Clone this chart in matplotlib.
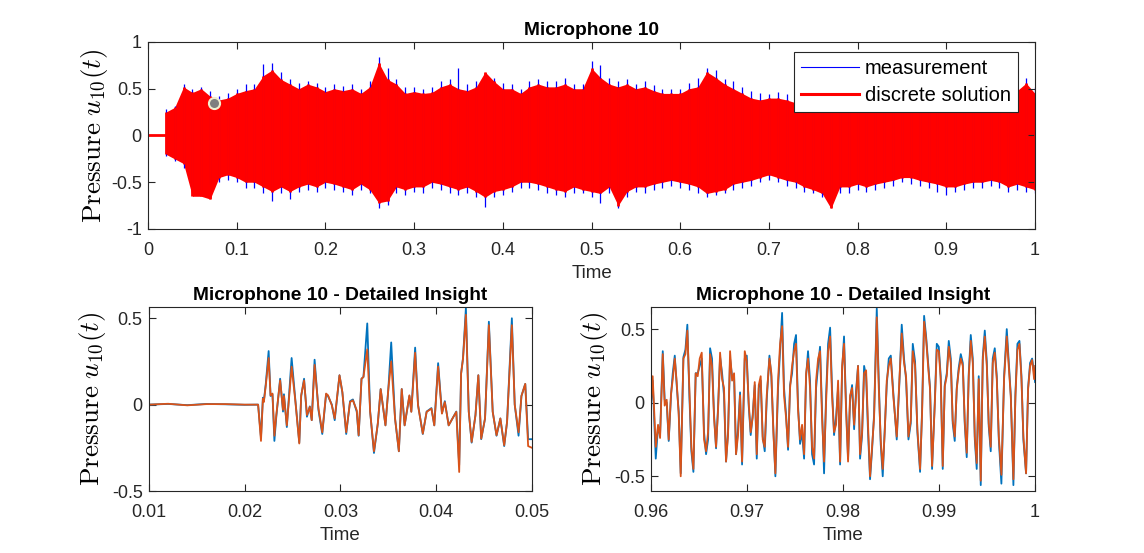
import matplotlib
matplotlib.use("Agg")
import matplotlib.pyplot as plt
import numpy as np
from matplotlib.ticker import FuncFormatter

plt.rcParams['font.family'] = ['Liberation Sans', 'DejaVu Sans']
plt.rcParams['mathtext.fontset'] = 'cm'
plt.rcParams['axes.unicode_minus'] = False

# ---- top panel: spike extremes of the full record, read at every 0.01 s ----
env_t = [0.02, 0.03, 0.04, 0.05, 0.06, 0.07, 0.08, 0.09, 0.10, 0.11, 0.12, 0.13, 0.14,
         0.15, 0.16, 0.17, 0.18, 0.19, 0.20, 0.21, 0.22, 0.23, 0.24, 0.25, 0.26, 0.27,
         0.28, 0.29, 0.30, 0.31, 0.32, 0.33, 0.34, 0.35, 0.36, 0.37, 0.38, 0.39, 0.40,
         0.41, 0.42, 0.43, 0.44, 0.45, 0.46, 0.47, 0.48, 0.49, 0.50, 0.51, 0.52, 0.53,
         0.54, 0.55, 0.56, 0.57, 0.58, 0.59, 0.60, 0.61, 0.62, 0.63, 0.64, 0.65, 0.66,
         0.67, 0.68, 0.69, 0.70, 0.71, 0.72, 0.73, 0.74, 0.75, 0.76, 0.77, 0.78, 0.79,
         0.80, 0.81, 0.82, 0.83, 0.84, 0.85, 0.86, 0.87, 0.88, 0.89, 0.90, 0.91, 0.92,
         0.93, 0.94, 0.95, 0.96, 0.97, 0.98, 0.99, 1.00]
sol_upper = [0.25, 0.30, 0.52, 0.46, 0.50, 0.42, 0.38, 0.40, 0.45, 0.48, 0.50, 0.64, 0.70,
             0.60, 0.55, 0.50, 0.55, 0.52, 0.47, 0.50, 0.48, 0.50, 0.45, 0.52, 0.78, 0.60,
             0.55, 0.45, 0.47, 0.45, 0.46, 0.52, 0.55, 0.50, 0.48, 0.52, 0.68, 0.58, 0.50,
             0.50, 0.45, 0.52, 0.55, 0.52, 0.52, 0.55, 0.50, 0.50, 0.72, 0.62, 0.55, 0.52,
             0.55, 0.50, 0.52, 0.48, 0.45, 0.45, 0.45, 0.50, 0.52, 0.68, 0.62, 0.55, 0.50,
             0.45, 0.40, 0.38, 0.40, 0.40, 0.38, 0.35, 0.40, 0.42, 0.45, 0.42, 0.40, 0.38,
             0.36, 0.35, 0.38, 0.36, 0.35, 0.38, 0.40, 0.38, 0.40, 0.42, 0.40, 0.42, 0.45,
             0.42, 0.45, 0.48, 0.45, 0.50, 0.48, 0.56, 0.45]
sol_lower = [-0.20, -0.25, -0.30, -0.65, -0.65, -0.68, -0.45, -0.42, -0.45, -0.50, -0.50,
             -0.55, -0.60, -0.55, -0.60, -0.55, -0.52, -0.55, -0.50, -0.52, -0.55, -0.58,
             -0.52, -0.58, -0.72, -0.70, -0.55, -0.58, -0.55, -0.55, -0.50, -0.52, -0.55,
             -0.58, -0.55, -0.60, -0.66, -0.60, -0.58, -0.55, -0.50, -0.50, -0.52, -0.55,
             -0.58, -0.60, -0.55, -0.58, -0.60, -0.62, -0.55, -0.75, -0.60, -0.55, -0.55,
             -0.52, -0.50, -0.48, -0.50, -0.52, -0.55, -0.62, -0.60, -0.58, -0.52, -0.50,
             -0.48, -0.45, -0.42, -0.45, -0.48, -0.50, -0.55, -0.58, -0.62, -0.78, -0.55,
             -0.55, -0.52, -0.55, -0.52, -0.50, -0.48, -0.45, -0.45, -0.48, -0.50, -0.52,
             -0.55, -0.55, -0.52, -0.50, -0.50, -0.48, -0.50, -0.55, -0.52, -0.55, -0.58]
meas_upper = [0.28, 0.32, 0.55, 0.50, 0.52, 0.48, 0.42, 0.45, 0.50, 0.55, 0.55, 0.76, 0.78,
              0.68, 0.60, 0.56, 0.58, 0.56, 0.52, 0.55, 0.53, 0.55, 0.50, 0.58, 0.84, 0.72,
              0.60, 0.52, 0.52, 0.50, 0.52, 0.58, 0.60, 0.72, 0.55, 0.58, 0.65, 0.62, 0.56,
              0.55, 0.50, 0.58, 0.60, 0.58, 0.58, 0.62, 0.55, 0.55, 0.80, 0.75, 0.62, 0.58,
              0.60, 0.55, 0.58, 0.54, 0.50, 0.50, 0.50, 0.56, 0.62, 0.72, 0.70, 0.60, 0.58,
              0.52, 0.48, 0.45, 0.44, 0.46, 0.44, 0.42, 0.45, 0.48, 0.50, 0.48, 0.45, 0.44,
              0.42, 0.40, 0.44, 0.42, 0.40, 0.44, 0.46, 0.44, 0.46, 0.48, 0.46, 0.48, 0.52,
              0.48, 0.52, 0.55, 0.52, 0.58, 0.55, 0.62, 0.52]
meas_lower = [-0.22, -0.27, -0.35, -0.55, -0.58, -0.52, -0.50, -0.48, -0.50, -0.56, -0.56,
              -0.62, -0.70, -0.62, -0.68, -0.60, -0.58, -0.60, -0.56, -0.58, -0.60, -0.64,
              -0.58, -0.62, -0.78, -0.74, -0.62, -0.64, -0.60, -0.62, -0.56, -0.58, -0.62,
              -0.64, -0.62, -0.66, -0.77, -0.66, -0.64, -0.60, -0.56, -0.56, -0.58, -0.62,
              -0.64, -0.66, -0.62, -0.62, -0.66, -0.72, -0.62, -0.78, -0.66, -0.60, -0.62,
              -0.58, -0.56, -0.54, -0.56, -0.58, -0.62, -0.66, -0.64, -0.62, -0.58, -0.56,
              -0.54, -0.50, -0.48, -0.50, -0.54, -0.56, -0.60, -0.62, -0.66, -0.72, -0.62,
              -0.62, -0.58, -0.60, -0.58, -0.56, -0.54, -0.50, -0.52, -0.54, -0.56, -0.60,
              -0.64, -0.60, -0.58, -0.56, -0.56, -0.54, -0.56, -0.60, -0.58, -0.60, -0.62]
# silent part before the onset
onset_t = [0.0, 0.0215]
onset_v = [0.0, 0.0]
# data tip left on the figure
tip_t, tip_v = 0.0744, 0.35

# ---- bottom left: start of the record ----
early_t = [0.0100, 0.0120, 0.0140, 0.0160, 0.0180, 0.0200, 0.0214, 0.0217, 0.0219, 0.0220,
           0.0222, 0.0225, 0.0227, 0.0229, 0.0231, 0.0233, 0.0237, 0.0240, 0.0241, 0.0244,
           0.0249, 0.0253, 0.0257, 0.0259, 0.0262, 0.0265, 0.0268, 0.0270, 0.0273, 0.0277,
           0.0281, 0.0285, 0.0287, 0.0291, 0.0294, 0.0299, 0.0302, 0.0306, 0.0310, 0.0313,
           0.0317, 0.0319, 0.0322, 0.0324, 0.0328, 0.0331, 0.0335, 0.0339, 0.0342, 0.0347,
           0.0350, 0.0353, 0.0357, 0.0361, 0.0364, 0.0367, 0.0372, 0.0374, 0.0378, 0.0381,
           0.0386, 0.0390, 0.0395, 0.0398, 0.0402, 0.0406, 0.0409, 0.0413, 0.0417, 0.0421,
           0.0424, 0.0426, 0.0428, 0.0431, 0.0434, 0.0437, 0.0441, 0.0444, 0.0447, 0.0451,
           0.0455, 0.0459, 0.0463, 0.0467, 0.0471, 0.0474, 0.0479, 0.0482, 0.0486, 0.0489,
           0.0493, 0.0496, 0.0500]
early_meas = [0.000, 0.004, -0.003, 0.004, 0.002, -0.001, 0.000, -0.19, 0.04, 0.02,
              0.12, 0.31, 0.05, 0.06, -0.21, -0.07, 0.15, -0.04, 0.06, -0.13,
              0.27, 0.02, -0.22, 0.05, 0.15, -0.07, -0.01, -0.09, 0.26, -0.03,
              -0.17, 0.06, 0.05, 0.00, -0.09, 0.17, 0.07, -0.17, 0.02, 0.03,
              -0.04, -0.18, 0.15, 0.16, 0.47, -0.04, -0.28, -0.11, 0.09, -0.12,
              0.09, 0.36, -0.08, -0.27, 0.09, -0.12, 0.05, -0.04, 0.33, 0.00,
              -0.17, -0.04, -0.02, -0.12, 0.24, -0.05, 0.02, -0.12, -0.08, -0.04,
              -0.35, 0.18, 0.27, 0.56, -0.04, -0.22, -0.06, 0.17, -0.20, -0.08,
              0.48, -0.04, -0.18, -0.08, -0.24, -0.10, 0.50, 0.00, -0.18, 0.05,
              0.12, -0.20, -0.20]
early_sol = [0.000, 0.005, -0.004, 0.003, 0.003, 0.000, 0.000, -0.21, 0.035, 0.015,
             0.11, 0.27, 0.054, 0.064, -0.18, -0.06, 0.14, -0.03, 0.05, -0.12,
             0.22, 0.015, -0.225, 0.054, 0.14, -0.06, -0.013, -0.09, 0.23, -0.02,
             -0.16, 0.064, 0.054, -0.004, -0.08, 0.17, 0.073, -0.16, 0.015, 0.025,
             -0.033, -0.177, 0.15, 0.16, 0.32, -0.042, -0.27, -0.11, 0.09, -0.12,
             0.09, 0.25, -0.08, -0.27, 0.09, -0.12, 0.054, -0.042, 0.30, -0.004,
             -0.168, -0.042, -0.023, -0.12, 0.22, -0.052, 0.015, -0.12, -0.08, -0.042,
             -0.39, 0.18, 0.266, 0.52, -0.042, -0.216, -0.062, 0.17, -0.197, -0.08,
             0.46, -0.042, -0.177, -0.08, -0.235, -0.10, 0.46, 0.00, -0.16, 0.05,
             0.12, -0.24, -0.25]

# ---- bottom right: end of the record ----
late_t = [0.96000, 0.96017, 0.96049, 0.96073, 0.96094, 0.96122, 0.96142, 0.96163, 0.96184,
          0.96208, 0.96226, 0.96247, 0.96267, 0.96288, 0.96309, 0.96337, 0.96358, 0.96378,
          0.96399, 0.96420, 0.96441, 0.96465, 0.96486, 0.96507, 0.96528, 0.96552, 0.96573,
          0.96594, 0.96615, 0.96635, 0.96656, 0.96677, 0.96698, 0.96719, 0.96740, 0.96760,
          0.96781, 0.96802, 0.96823, 0.96844, 0.96865, 0.96885, 0.96906, 0.96927, 0.96948,
          0.96976, 0.96997, 0.97017, 0.97038, 0.97059, 0.97080, 0.97101, 0.97122, 0.97142,
          0.97163, 0.97184, 0.97205, 0.97233, 0.97253, 0.97274, 0.97295, 0.97323, 0.97344,
          0.97365, 0.97385, 0.97406, 0.97427, 0.97448, 0.97469, 0.97490, 0.97510, 0.97531,
          0.97552, 0.97573, 0.97594, 0.97615, 0.97635, 0.97656, 0.97677, 0.97698, 0.97719,
          0.97740, 0.97760, 0.97781, 0.97802, 0.97823, 0.97844, 0.97865, 0.97885, 0.97906,
          0.97927, 0.97948, 0.97969, 0.97990, 0.98010, 0.98031, 0.98052, 0.98073, 0.98094,
          0.98115, 0.98135, 0.98156, 0.98177, 0.98198, 0.98219, 0.98240, 0.98260, 0.98281,
          0.98302, 0.98323, 0.98351, 0.98372, 0.98392, 0.98413, 0.98434, 0.98455, 0.98476,
          0.98497, 0.98524, 0.98559, 0.98587, 0.98611, 0.98635, 0.98656, 0.98681, 0.98705,
          0.98726, 0.98750, 0.98774, 0.98802, 0.98823, 0.98844, 0.98865, 0.98889, 0.98906,
          0.98927, 0.98955, 0.98976, 0.98997, 0.99017, 0.99038, 0.99059, 0.99080, 0.99101,
          0.99122, 0.99142, 0.99163, 0.99184, 0.99205, 0.99226, 0.99247, 0.99267, 0.99288,
          0.99309, 0.99330, 0.99351, 0.99372, 0.99392, 0.99413, 0.99434, 0.99455, 0.99476,
          0.99497, 0.99517, 0.99538, 0.99559, 0.99580, 0.99601, 0.99622, 0.99649, 0.99677,
          0.99705, 0.99726, 0.99747, 0.99774, 0.99795, 0.99816, 0.99837, 0.99858, 0.99878,
          0.99906, 0.99927, 0.99948, 0.99969, 0.99990, 1.00000]
late_sol = [0.00, 0.18, -0.30, -0.15, -0.24, 0.33, -0.02, 0.02, -0.25,
            0.06, 0.16, 0.30, 0.14, -0.08, -0.50, 0.30, 0.33, 0.49,
            0.10, -0.30, -0.45, 0.20, 0.18, 0.30, 0.34, -0.25, -0.33,
            -0.20, 0.33, 0.25, -0.10, -0.30, -0.05, 0.34, 0.16, 0.10,
            -0.40, -0.22, 0.35, 0.15, 0.20, -0.35, -0.22, 0.05, -0.40,
            0.35, 0.28, 0.00, -0.20, -0.10, 0.14, -0.35, 0.12, 0.18,
            -0.25, -0.30, 0.05, 0.30, 0.20, -0.20, -0.48, 0.15, 0.40,
            0.52, 0.05, -0.10, -0.30, 0.10, 0.25, 0.35, 0.40, -0.05,
            -0.25, -0.15, -0.35, 0.20, 0.30, 0.10, -0.30, -0.38, 0.15,
            0.30, 0.35, -0.10, -0.40, 0.00, 0.35, 0.45, 0.05, -0.20,
            -0.15, 0.15, -0.40, 0.25, 0.40, -0.05, -0.40, 0.05, 0.10,
            -0.15, 0.05, 0.25, -0.35, -0.20, 0.20, 0.22, -0.15, -0.50,
            -0.30, -0.10, 0.58, 0.10, -0.25, -0.45, -0.20, 0.15, 0.25,
            0.30, 0.04, -0.23, 0.16, 0.47, 0.27, 0.18, -0.23, -0.12,
            0.35, 0.25, -0.18, -0.45, -0.07, 0.55, 0.43, 0.22, 0.09,
            -0.43, -0.02, 0.36, 0.35, 0.16, -0.43, 0.11, 0.18, 0.38,
            0.27, -0.12, -0.23, 0.09, 0.22, 0.30, 0.25, -0.12, -0.34,
            0.18, 0.42, 0.27, -0.23, -0.41, 0.16, -0.53, 0.29, 0.45,
            0.25, -0.14, -0.30, 0.27, 0.34, 0.16, -0.23, -0.49, 0.16,
            0.45, 0.25, 0.04, -0.52, 0.04, 0.36, 0.40, 0.16, -0.23,
            -0.48, 0.09, 0.25, 0.29, 0.16, 0.25]
late_meas = [0.00, 0.15, -0.38, -0.16, -0.22, 0.35, 0.02, 0.00, -0.26,
             0.05, 0.20, 0.32, 0.12, -0.06, -0.48, 0.31, 0.36, 0.53,
             0.05, -0.33, -0.47, 0.20, 0.20, 0.25, 0.30, -0.20, -0.35,
             -0.25, 0.37, 0.30, -0.08, -0.31, -0.03, 0.31, 0.20, 0.05,
             -0.40, -0.20, 0.30, 0.18, 0.18, -0.35, -0.18, 0.07, -0.42,
             0.30, 0.32, -0.02, -0.22, -0.08, 0.12, -0.38, 0.10, 0.15,
             -0.23, -0.33, 0.02, 0.32, 0.18, -0.18, -0.50, 0.10, 0.35,
             0.61, 0.10, -0.08, -0.32, 0.12, 0.20, 0.40, 0.46, -0.02,
             -0.28, -0.20, -0.38, 0.18, 0.35, 0.15, -0.35, -0.42, 0.10,
             0.25, 0.38, -0.05, -0.48, 0.05, 0.40, 0.51, 0.10, -0.22,
             -0.10, 0.10, -0.42, 0.22, 0.45, -0.02, -0.38, 0.02, 0.12,
             -0.18, 0.08, 0.25, -0.38, -0.22, 0.25, 0.18, -0.20, -0.52,
             -0.32, -0.08, 0.64, 0.15, -0.28, -0.50, -0.18, 0.12, 0.30,
             0.32, 0.06, -0.25, 0.14, 0.53, 0.30, 0.16, -0.25, -0.14,
             0.40, 0.28, -0.20, -0.47, -0.05, 0.59, 0.45, 0.25, 0.10,
             -0.45, 0.00, 0.40, 0.38, 0.18, -0.45, 0.12, 0.20, 0.42,
             0.30, -0.14, -0.26, 0.10, 0.24, 0.33, 0.27, -0.14, -0.37,
             0.20, 0.46, 0.30, -0.25, -0.45, 0.18, -0.56, 0.31, 0.49,
             0.28, -0.16, -0.33, 0.30, 0.37, 0.18, -0.25, -0.55, 0.18,
             0.50, 0.28, 0.05, -0.56, 0.06, 0.40, 0.42, 0.18, -0.25,
             -0.48, 0.10, 0.27, 0.30, 0.20, 0.14]

AX_COLOR = '#262626'
MEAS_BLUE = '#0072BD'
SOL_ORANGE = '#D95319'
YLABEL = r'$\mathrm{Pressure}\ u_{10}(t)$'


def matlab_axes(ax):
    for side in ax.spines.values():
        side.set_color(AX_COLOR)
        side.set_linewidth(0.8)
    ax.tick_params(direction='in', top=True, right=True, length=5, width=0.8,
                   colors=AX_COLOR, labelsize=13)
    ax.tick_params(axis='x', pad=9.5)
    ax.tick_params(axis='y', pad=4.5)
    ax.xaxis.set_major_formatter(FuncFormatter(lambda v, p: f'{v:g}'))
    ax.yaxis.set_major_formatter(FuncFormatter(lambda v, p: f'{v:g}'))


def decorate(ax, title, pad=2.5):
    ax.set_title(title, fontsize=13.8, fontweight='bold', pad=5)
    ax.set_xlabel('Time', fontsize=13.5, color=AX_COLOR, labelpad=4)
    ax.set_ylabel(YLABEL, fontsize=19.5, labelpad=pad)


fig = plt.figure(figsize=(11.44, 5.53), dpi=100)

# top panel
ax = fig.add_axes([0.1294, 0.5859, 0.7753, 0.3382])
ax.vlines(env_t, meas_lower, meas_upper, color='blue', lw=0.9)
ax.fill_between(env_t, sol_lower, sol_upper, color='red', lw=0)
ax.vlines(env_t, sol_lower, sol_upper, color='red', lw=2.0)
ax.plot(onset_t, onset_v, color='red', lw=2)
l1, = ax.plot([], [], color='blue', lw=0.8, label='measurement')
l2, = ax.plot([], [], color='red', lw=2.2, label='discrete solution')
ax.plot(tip_t, tip_v, 'o', ms=8, mfc='#7f7f7f', mec='#f2eecf', mew=1.5)
ax.set_xlim(0, 1)
ax.set_ylim(-1, 1)
ax.set_xticks(np.arange(0, 1.01, 0.1))
ax.set_yticks([-1, -0.5, 0, 0.5, 1])
matlab_axes(ax)
decorate(ax, 'Microphone 10', pad=1)
leg = ax.legend(handles=[l1, l2], loc='upper right', bbox_to_anchor=(0.981, 0.947),
                borderaxespad=0, fontsize=14.5, handlelength=2.9, fancybox=False,
                framealpha=1, edgecolor=AX_COLOR, borderpad=0.35, labelspacing=0.42,
                handletextpad=0.3)
leg.get_frame().set_linewidth(0.8)

# bottom left
ax = fig.add_axes([0.1302, 0.1121, 0.3348, 0.3327])
ax.plot(early_t, early_meas, color=MEAS_BLUE, lw=1.3)
ax.plot(early_t, early_sol, color=SOL_ORANGE, lw=1.3)
ax.set_xlim(0.01, 0.05)
ax.set_ylim(-0.5, 0.565)
ax.set_xticks([0.01, 0.02, 0.03, 0.04, 0.05])
ax.set_yticks([-0.5, 0, 0.5])
matlab_axes(ax)
decorate(ax, 'Microphone 10 - Detailed Insight')

# bottom right
ax = fig.add_axes([0.5691, 0.1121, 0.3357, 0.3327])
ax.plot(late_t, late_meas, color=MEAS_BLUE, lw=1.3)
ax.plot(late_t, late_sol, color=SOL_ORANGE, lw=1.3)
ax.set_xlim(0.96, 1.0)
ax.set_ylim(-0.6, 0.65)
ax.set_xticks([0.96, 0.97, 0.98, 0.99, 1.0])
ax.set_yticks([-0.5, 0, 0.5])
matlab_axes(ax)
decorate(ax, 'Microphone 10 - Detailed Insight')

fig.savefig('out.png', dpi=100)
